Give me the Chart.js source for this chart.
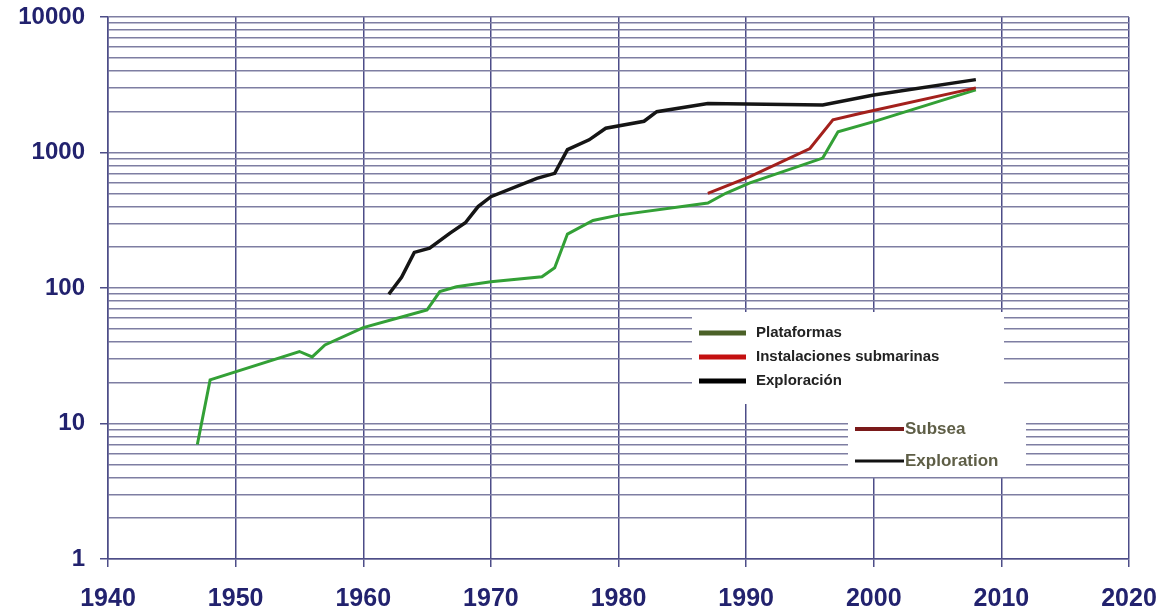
<!DOCTYPE html>
<html>
<head>
<meta charset="utf-8">
<script src="https://cdn.jsdelivr.net/npm/chart.js@4/dist/chart.umd.min.js"></script>
<style>
  html, body { margin: 0; padding: 0; background: #fff; }
  #wrap { width: 1165px; height: 613px; }
</style>
</head>
<body>
<div id="wrap"><canvas id="chart" width="1165" height="613"></canvas></div>
<script>
// valores (profundidad de agua, m, escala log)
const platYears  = [1947, 1948, 1955, 1956, 1957, 1960, 1963.5, 1965, 1966, 1967.3, 1970, 1974, 1975, 1976, 1978, 1980, 1987, 1988.4, 1990.3, 1996, 1997.2, 2000, 2008];
const platValues = [7, 21, 34, 31, 38, 51, 63, 69, 94, 102, 111, 121, 141, 250, 315, 345, 424, 500, 596, 910, 1420, 1690, 2900];

const subseaYears  = [1987, 1990.3, 1995, 1996.8, 1999, 2008];
const subseaValues = [500, 663, 1070, 1740, 1950, 3000];

const exploYears  = [1962, 1963, 1964, 1965.2, 1966.8, 1968, 1969, 1970, 1973.6, 1975, 1976, 1977.7, 1979, 1982, 1983, 1987, 1996, 2000, 2008];
const exploValues = [90, 120, 183, 197, 254, 303, 399, 472, 644, 702, 1050, 1240, 1510, 1700, 2000, 2300, 2240, 2660, 3450];

const xTicks = [1940, 1950, 1960, 1970, 1980, 1990, 2000, 2010, 2020];
const yMajor = [1, 10, 100, 1000, 10000];

const legendEs = ['Plataformas', 'Instalaciones submarinas', 'Exploración'];
const legendEn = ['Subsea', 'Exploration'];

const toPoints = (xs, ys) => xs.map((x, i) => ({ x: x, y: ys[i] }));

const LABEL = '#22226e';
const FONT = '"Liberation Sans", Arial, sans-serif';

const legendPlugin = {
  id: 'legendBoxes',
  afterDatasetsDraw(chart) {
    const ctx = chart.ctx;
    ctx.save();
    // cuadros blancos que tapan la cuadrícula
    ctx.fillStyle = '#ffffff';
    ctx.fillRect(692, 312, 312, 92);
    ctx.fillRect(848, 400, 178, 77);

    // leyenda en español
    const esColors = ['#4b6128', '#c41010', '#000000'];
    const esY = [333, 357, 381];
    ctx.font = 'bold 15px ' + FONT;
    ctx.textBaseline = 'middle';
    legendEs.forEach((t, i) => {
      ctx.strokeStyle = esColors[i];
      ctx.lineWidth = 5;
      ctx.beginPath();
      ctx.moveTo(699, esY[i]);
      ctx.lineTo(746, esY[i]);
      ctx.stroke();
      ctx.fillStyle = '#222222';
      ctx.fillText(t, 756, esY[i]);
    });

    // restos de la leyenda original en inglés
    const enColors = ['#7a1a1a', '#111111'];
    const enY = [429, 461];
    ctx.font = 'bold 17px ' + FONT;
    legendEn.forEach((t, i) => {
      ctx.strokeStyle = enColors[i];
      ctx.lineWidth = i === 0 ? 4 : 3;
      ctx.beginPath();
      ctx.moveTo(855, enY[i]);
      ctx.lineTo(904, enY[i]);
      ctx.stroke();
      ctx.fillStyle = '#5e5e46';
      ctx.fillText(t, 905, enY[i]);
    });
    ctx.restore();
  }
};

new Chart(document.getElementById('chart'), {
  type: 'line',
  data: {
    datasets: [
      {
        label: 'Exploración',
        data: toPoints(exploYears, exploValues),
        borderColor: '#151515',
        borderWidth: 3.5
      },
      {
        label: 'Instalaciones submarinas',
        data: toPoints(subseaYears, subseaValues),
        borderColor: '#a3201c',
        borderWidth: 3
      },
      {
        label: 'Plataformas',
        data: toPoints(platYears, platValues),
        borderColor: '#33a036',
        borderWidth: 3
      }
    ]
  },
  options: {
    responsive: false,
    animation: false,
    layout: { padding: { top: 17, right: 36, left: 0, bottom: 0 } },
    elements: { point: { radius: 0 }, line: { tension: 0 } },
    plugins: { legend: { display: false }, tooltip: { enabled: false } },
    scales: {
      x: {
        type: 'linear',
        min: 1940,
        max: 2020,
        afterBuildTicks: (scale) => { scale.ticks = xTicks.map(v => ({ value: v })); },
        afterFit: (scale) => {
          scale.height = 54;
          scale.paddingLeft = 0;
          scale.paddingRight = 0;
        },
        grid: { color: '#4d4d88', lineWidth: 1.5, tickLength: 8, tickColor: '#4d4d88' },
        border: { color: '#4d4d88', width: 1.5 },
        ticks: {
          color: LABEL,
          font: { family: FONT, size: 25, weight: 'bold' },
          padding: 17,
          maxRotation: 0,
          autoSkip: false,
          callback: (v) => String(v)
        }
      },
      y: {
        type: 'logarithmic',
        min: 1,
        max: 10000,
        afterBuildTicks: (scale) => {
          const t = [];
          yMajor.forEach(m => {
            for (let k = 1; k <= 9; k++) {
              const v = m * k;
              if (v <= 10000) t.push({ value: v, major: k === 1 });
            }
          });
          scale.ticks = t;
        },
        afterFit: (scale) => {
          scale.width = 108;
          scale.paddingTop = 0;
          scale.paddingBottom = 0;
        },
        grid: {
          color: '#7e7ea2',
          lineWidth: 1.5,
          tickLength: 8,
          tickColor: (c) => (c.tick && yMajor.includes(c.tick.value)) ? '#4d4d88' : 'rgba(0,0,0,0)'
        },
        border: { color: '#4d4d88', width: 1.5 },
        ticks: {
          color: LABEL,
          font: { family: FONT, size: 24, weight: 'bold' },
          padding: 15,
          autoSkip: false,
          callback: (v) => yMajor.includes(v) ? String(v) : ''
        }
      }
    }
  },
  plugins: [legendPlugin]
});
</script>
</body>
</html>
